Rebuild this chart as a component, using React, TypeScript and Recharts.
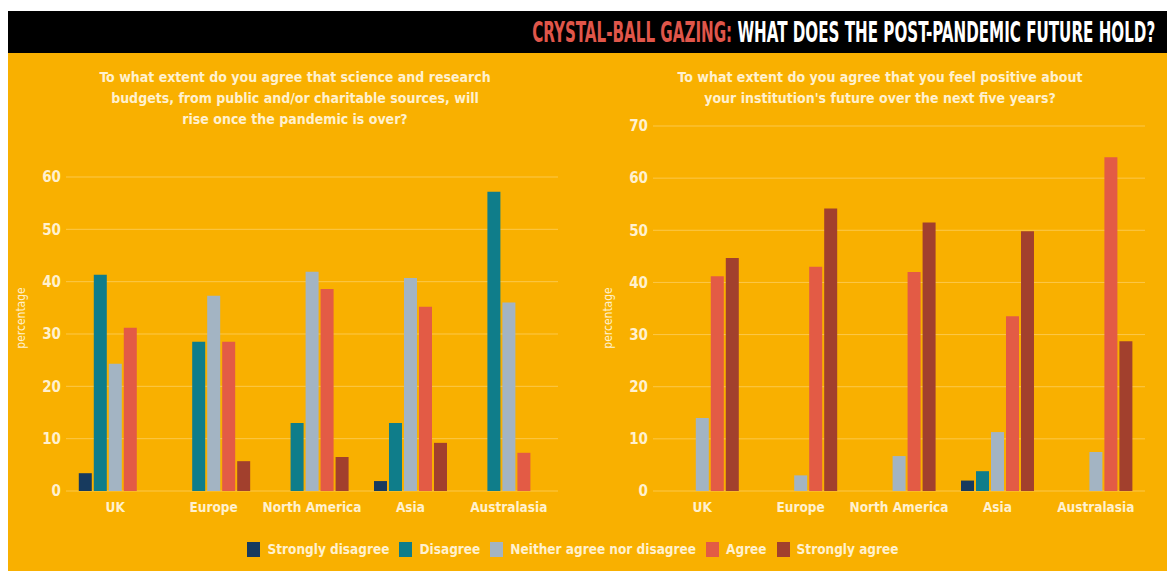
import React from "react";
import {
  BarChart,
  Bar,
  XAxis,
  YAxis,
  CartesianGrid,
} from "recharts";

const regions = ["UK", "Europe", "North America", "Asia", "Australasia"];

const seriesNames = [
  "Strongly disagree",
  "Disagree",
  "Neither agree nor disagree",
  "Agree",
  "Strongly agree",
];
const seriesColors = ["#173a5e", "#0f7d8a", "#a3b4c3", "#e35b45", "#a2402d"];

// budgets question
const budgetStronglyDisagree = [3.4, 0, 0, 1.9, 0];
const budgetDisagree = [41.3, 28.5, 13, 13, 57.2];
const budgetNeither = [24.3, 37.3, 41.9, 40.7, 36];
const budgetAgree = [31.2, 28.5, 38.6, 35.2, 7.3];
const budgetStronglyAgree = [0, 5.7, 6.5, 9.2, 0];
const budgetTicks = [0, 10, 20, 30, 40, 50, 60];

// institution future question
const futureStronglyDisagree = [0, 0, 0, 2, 0];
const futureDisagree = [0, 0, 0, 3.8, 0];
const futureNeither = [14, 3, 6.7, 11.3, 7.5];
const futureAgree = [41.2, 43, 42, 33.5, 64];
const futureStronglyAgree = [44.7, 54.2, 51.5, 49.8, 28.7];
const futureTicks = [0, 10, 20, 30, 40, 50, 60, 70];

const keys = ["sd", "d", "n", "a", "sa"];

const build = (cols: number[][]) =>
  regions.map((region, i) => {
    const row: any = { region };
    keys.forEach((k, j) => (row[k] = cols[j][i]));
    return row;
  });

const budgetData = build([
  budgetStronglyDisagree,
  budgetDisagree,
  budgetNeither,
  budgetAgree,
  budgetStronglyAgree,
]);
const futureData = build([
  futureStronglyDisagree,
  futureDisagree,
  futureNeither,
  futureAgree,
  futureStronglyAgree,
]);

const ORANGE = "#f9b000";
const TEXT = "#fff1cf";
const GRID = "#fcc84a";
const FONT =
  "'Liberation Sans Narrow', 'DejaVu Sans Condensed', 'DejaVu Sans', sans-serif";

type PanelProps = {
  data: any[];
  ticks: number[];
  width: number;
  margin: { top: number; right: number; bottom: number; left: number };
  labelX: number;
  labelY: number;
};

const Panel = ({ data, ticks, width, margin, labelX, labelY }: PanelProps) => (
  <BarChart
    width={width}
    height={571}
    data={data}
    margin={margin}
    barCategoryGap="13%"
    barGap={2}
  >
    <CartesianGrid vertical={false} stroke={GRID} strokeWidth={1} />
    <XAxis
      dataKey="region"
      axisLine={false}
      tickLine={false}
      tickMargin={5}
      height={30}
      tick={{ fill: TEXT, fontSize: 13.5, fontFamily: FONT, fontWeight: 700 }}
      interval={0}
    />
    <YAxis
      domain={[0, ticks[ticks.length - 1]]}
      ticks={ticks}
      axisLine={false}
      tickLine={false}
      tickSize={5}
      tickMargin={0}
      width={30}
      tick={{ fill: TEXT, fontSize: 15, fontFamily: FONT, fontWeight: 700 }}
      label={{
        content: () => (
          <text
            transform={`translate(${labelX},${labelY}) rotate(-90)`}
            textAnchor="middle"
            fill={TEXT}
            fontSize={12}
            fontFamily={FONT}
          >
            percentage
          </text>
        ),
      }}
    />
    {keys.map((k, i) => (
      <Bar
        key={k}
        dataKey={k}
        name={seriesNames[i]}
        fill={seriesColors[i]}
        isAnimationActive={false}
      />
    ))}
  </BarChart>
);

const subStyle: React.CSSProperties = {
  position: "absolute",
  color: TEXT,
  fontFamily: FONT,
  fontWeight: 700,
  fontSize: 14,
  lineHeight: "21px",
  textAlign: "center",
};

export default function App() {
  return (
    <div
      style={{
        position: "relative",
        width: 1167,
        height: 571,
        background: "#fff",
        overflow: "hidden",
        fontFamily: FONT,
      }}
    >
      <style>{`body{margin:0}`}</style>
      <div
        style={{
          position: "absolute",
          left: 8,
          top: 11,
          width: 1159,
          height: 42,
          background: "#000",
        }}
      />
      <div
        style={{
          position: "absolute",
          left: 8,
          top: 53,
          width: 1159,
          height: 518,
          background: ORANGE,
        }}
      />
      <div
        style={{
          position: "absolute",
          right: 12,
          top: 14,
          height: 36,
          lineHeight: "36px",
          fontSize: 29,
          fontWeight: 700,
          whiteSpace: "nowrap",
          transform: "scaleX(0.58)",
          transformOrigin: "right center",
          color: "#fff",
        }}
      >
        <span style={{ color: "#e0564a" }}>CRYSTAL-BALL GAZING:</span> WHAT
        DOES THE POST-PANDEMIC FUTURE HOLD?
      </div>

      <div style={{ ...subStyle, left: 60, top: 67, width: 470 }}>
        To what extent do you agree that science and research
        <br />
        budgets, from public and/or charitable sources, will
        <br />
        rise once the pandemic is over?
      </div>
      <div style={{ ...subStyle, left: 640, top: 67, width: 480 }}>
        To what extent do you agree that you feel positive about
        <br />
        your institution's future over the next five years?
      </div>

      <div style={{ position: "absolute", left: 0, top: 0 }}>
        <Panel
          data={budgetData}
          ticks={budgetTicks}
          width={580}
          margin={{ top: 177, right: 22, bottom: 50, left: 36 }}
          labelX={25}
          labelY={318}
        />
      </div>
      <div style={{ position: "absolute", left: 580, top: 0 }}>
        <Panel
          data={futureData}
          ticks={futureTicks}
          width={587}
          margin={{ top: 126, right: 22, bottom: 50, left: 43 }}
          labelX={32}
          labelY={318}
        />
      </div>

      <div
        style={{
          position: "absolute",
          left: 0,
          width: 1146,
          top: 539,
          height: 20,
          display: "flex",
          justifyContent: "center",
          alignItems: "center",
          gap: 10,
          color: TEXT,
          fontSize: 13.5,
          fontWeight: 700,
        }}
      >
        {seriesNames.map((name, i) => (
          <div
            key={name}
            style={{ display: "flex", alignItems: "center", gap: 7 }}
          >
            <span
              style={{
                width: 13,
                height: 15,
                background: seriesColors[i],
                display: "inline-block",
              }}
            />
            <span>{name}</span>
          </div>
        ))}
      </div>
    </div>
  );
}
